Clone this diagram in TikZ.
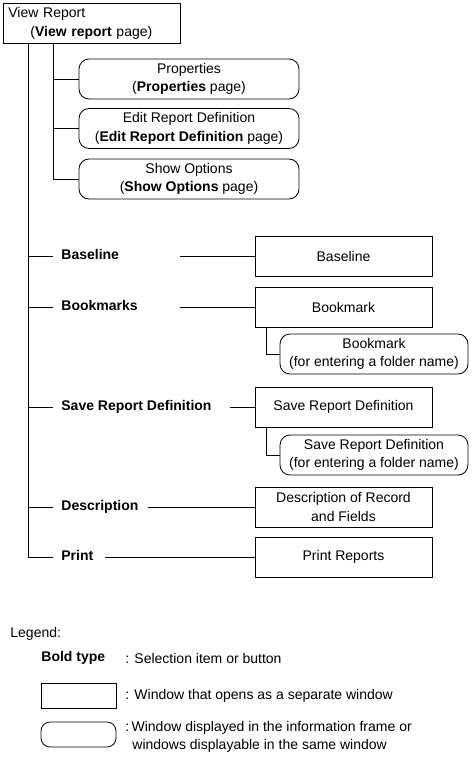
\documentclass[tikz,border=0pt]{standalone}
\usepackage{fontspec}
\setmainfont{Liberation Sans}
\newcommand\diafont{\fontsize{14}{18.5}\selectfont}
\tikzstyle{win} = [draw, rectangle, minimum width=177pt, minimum height=40pt, text centered, align=center, font=\diafont]
\tikzstyle{pane} = [draw, rounded corners=10pt, minimum height=40pt, text centered, align=center, font=\diafont]
\tikzstyle{item} = [anchor=west, inner sep=0pt, text height=10pt, text depth=3pt, font=\diafont\bfseries]
\tikzstyle{note} = [anchor=west, inner sep=0pt, align=left, font=\diafont]

\begin{document}
\begin{tikzpicture}[x=1pt, y=-1pt, line width=0.8pt]
    \useasboundingbox (0,0) rectangle (472,760);

    % top window and its pages
    \node[win, text width=167pt, align=left, anchor=north west] (vr) at (3,3)
        {View Report\\\hspace*{22pt}(\textbf{View report} page)};
    \node[pane, minimum width=220pt] (prop) at (189,79) {Properties\\(\textbf{Properties} page)};
    \node[pane, minimum width=220pt] (edit) at (189,128.5) {Edit Report Definition\\(\textbf{Edit Report Definition} page)};
    \node[pane, minimum width=220pt] (show) at (189,179) {Show Options\\(\textbf{Show Options} page)};

    % selection items and the windows they open
    \node[item] (lbase) at (61,256) {Baseline};
    \node[win] (base) at (343.5,256) {Baseline};
    \node[item] (lbook) at (61,307) {Bookmarks};
    \node[win] (book) at (343.5,307) {Bookmark};
    \node[pane, minimum width=188pt] (bookf) at (374,354) {Bookmark\\(for entering a folder name)};
    \node[item] (lsave) at (61,407) {Save Report Definition};
    \node[win] (save) at (343.5,407) {Save Report Definition};
    \node[pane, minimum width=188pt] (savef) at (374,455) {Save Report Definition\\(for entering a folder name)};
    \node[item] (ldesc) at (61,507) {Description};
    \node[win] (desc) at (343.5,507) {Description of Record\\and Fields};
    \node[item] (lprint) at (61,557) {Print};
    \node[win] (prnt) at (343.5,557) {Print Reports};

    % connectors
    \coordinate (trunk) at ([xshift=25pt]vr.south west);
    \coordinate (stem) at ([xshift=50pt]vr.south west);
    \draw (stem) |- (prop.west);
    \draw (stem) |- (edit.west);
    \draw (stem) |- (show.west);
    \draw (trunk) |- ([xshift=-8pt]lprint.west);
    \foreach \l in {lbase,lbook,lsave,ldesc}
        \draw (trunk |- \l.west) -- ([xshift=-8pt]\l.west);
    \draw ([xshift=-75pt]base.west) -- (base.west);
    \draw ([xshift=-75pt]book.west) -- (book.west);
    \draw ([xshift=-25pt]save.west) -- (save.west);
    \draw ([xshift=-107pt]desc.west) -- (desc.west);
    \draw ([xshift=-150pt]prnt.west) -- (prnt.west);
    \draw ([xshift=12pt]book.south west) |- (bookf.west);
    \draw ([xshift=12pt]save.south west) |- (savef.west);

    % legend
    \node[note] (leg) at (10,634) {Legend:};
    \node[item] (kbold) at (41,658) {Bold type};
    \node[note] (tbold) at (125,658) {: Selection item or button};
    \node[draw, minimum width=75pt, minimum height=25pt] (kwin) at (78.5,695.5) {};
    \node[note] (twin) at (125,695.5) {: Window that opens as a separate window};
    \node[draw, rounded corners=9pt, minimum width=75pt, minimum height=25pt] (kpane) at (78.5,734.5) {};
    \node[note] (tpane) at (125,737) {:\,Window displayed in the information frame or\\\hspace*{7pt}windows displayable in the same window};
\end{tikzpicture}
\end{document}
